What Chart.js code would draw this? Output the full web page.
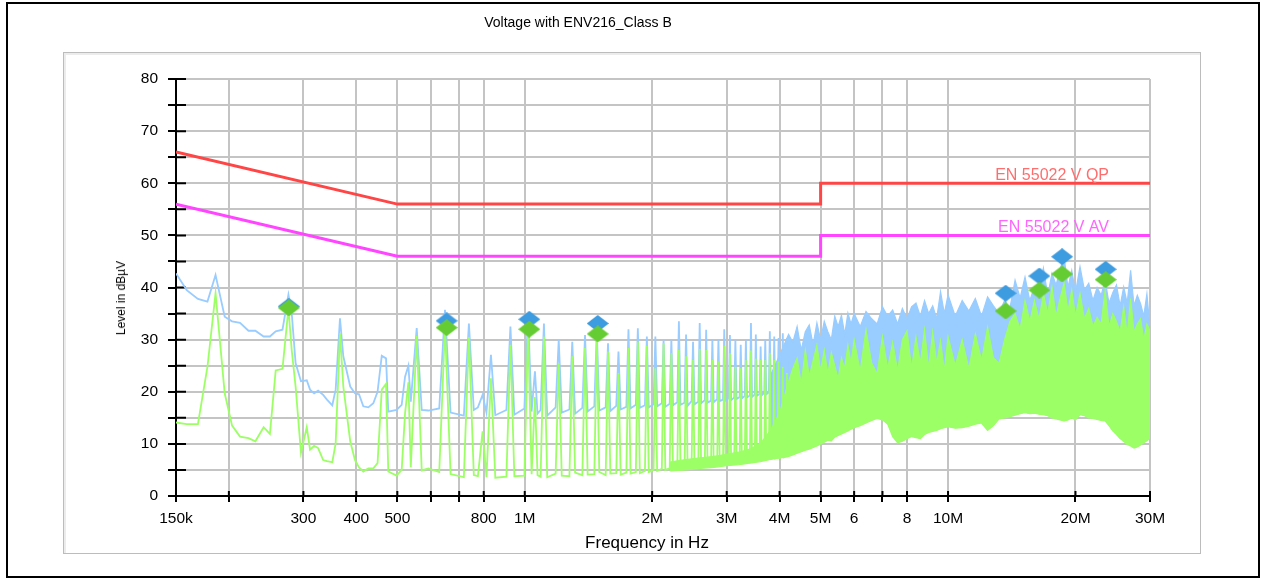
<!DOCTYPE html>
<html>
<head>
<meta charset="utf-8">
<script src="https://cdn.jsdelivr.net/npm/chart.js@4.4.0/dist/chart.umd.min.js"></script>
<style>
  html, body { margin: 0; padding: 0; background: #fff; }
  body { width: 1263px; height: 579px; position: relative; overflow: hidden; font-family: "Liberation Sans", Arial, sans-serif; }
  #frame { position: absolute; left: 6px; top: 2px; width: 1254px; height: 576px; box-sizing: border-box; border: 2px solid #000; }
  #panel { position: absolute; left: 63px; top: 52px; width: 1138px; height: 502px; box-sizing: border-box; border: 1px solid #bcbcbc; box-shadow: inset 2px 2px 0 #ececec; }
  #chart { position: absolute; left: 0; top: 0; }
  .txt { position: absolute; color: #000; white-space: nowrap; }
  #title { left: 578px; top: 14px; font-size: 14px; transform: translateX(-50%); }
  #xtitle { left: 647px; top: 533px; font-size: 17px; transform: translateX(-50%); }
  #ytitle { left: 121px; top: 298px; font-size: 12px; transform: translate(-50%, -50%) rotate(-90deg); }
</style>
</head>
<body>
<div id="frame"></div>
<div id="panel"></div>
<canvas id="chart" width="1263" height="579"></canvas>
<div class="txt" id="title">Voltage with ENV216_Class B</div>
<div class="txt" id="xtitle">Frequency in Hz</div>
<div class="txt" id="ytitle">Level in dBµV</div>
<script>
// axis ticks
const xTickValues = [150e3, 200e3, 300e3, 400e3, 500e3, 600e3, 700e3, 800e3, 1e6,
                     2e6, 3e6, 4e6, 5e6, 6e6, 7e6, 8e6, 10e6, 20e6, 30e6];
const xTickLabels = ['150k', '', '300', '400', '500', '', '', '800', '1M',
                     '2M', '3M', '4M', '5M', '6', '', '8', '10M', '20M', '30M'];

// limit lines (MHz, dBuV)
const limitNames = ['EN 55022 V QP', 'EN 55022 V AV'];
const limitFreqM = [0.15, 0.5, 5, 5, 30];
const qpLimit = [66, 56, 56, 60, 60];
const avLimit = [56, 46, 46, 50, 50];

// final measurement markers
const markerFreqM = [0.277, 0.654, 1.025, 1.487, 13.68, 16.43, 18.6, 23.57];
const markerPeak = [36.4, 33.6, 33.9, 33.1, 38.9, 42.2, 45.9, 43.5];
const markerAvg = [36.1, 32.3, 32.0, 31.1, 35.5, 39.5, 42.6, 41.5];

// preview scan, low part (kHz)
const traceFreqK = [
  150, 159, 169, 178, 186, 195.5, 203.5, 212.5, 222.5, 231, 241.6, 250,
  258, 267.7, 276.5, 281.5, 287.5, 296, 305.5, 311, 318, 325, 334, 341,
  351, 357.5, 366, 372.7, 387, 397, 406, 415.5, 427, 438.8, 449, 459.4,
  470.2, 476, 498, 512, 521.5, 531, 538, 555.6, 571, 592,
  628, 648, 668, 718, 738, 758, 775, 795, 812, 832, 852,
  905, 925, 945, 998, 1018, 1038, 1057, 1072, 1090, 1110, 1130,
  1183, 1203, 1223, 1275, 1295, 1315, 1368, 1388, 1408, 1460, 1480, 1500,
  1553, 1573, 1593, 1645, 1665, 1685, 1738, 1758, 1778, 1830, 1850, 1870,
  1923, 1943, 1963, 2015, 2035, 2055, 2108, 2128, 2148, 2200, 2220, 2240,
  2293, 2313, 2333, 2385, 2405, 2425, 2478, 2498, 2518, 2570, 2590, 2610,
  2663, 2683, 2703, 2755, 2775, 2795, 2848, 2868, 2888, 2940, 2960, 2980,
  3033, 3053, 3073, 3125, 3145, 3165, 3218, 3238, 3258, 3310, 3330, 3350,
  3403, 3423, 3443, 3495, 3515, 3535, 3588, 3608, 3628, 3680, 3700, 3720,
  3773, 3793, 3813, 3865, 3885, 3905, 3958, 3978, 3998, 4050, 4070, 4090,
  4143, 4163, 4183
];
const tracePeak = [
  42.7, 39.5, 37.8, 37.3, 42.4, 34.4, 33.5, 33.2, 31.7, 31.7, 30.6, 30.6,
  31.6, 31.9, 38.6, 35.1, 25.5, 22.0, 22.2, 20.4, 19.7, 20.2, 19.4, 18.5,
  17.4, 20.4, 34.1, 26.8, 21.0, 19.7, 19.5, 17.2, 17.0, 17.8, 20.0, 26.9,
  26.4, 16.2, 16.5, 17.5, 22.9, 25.0, 18.1, 32.2, 16.5, 16.4,
  16.8, 35.7, 16.0, 15.4, 33.1, 16.5, 17.0, 19.4, 16.0, 27.1, 15.5,
  16.5, 32.5, 15.6, 16.8, 34.7, 16.2, 23.9, 15.8, 16.5, 33.1, 15.4,
  17.0, 29.9, 16.0, 16.6, 29.6, 15.8, 16.9, 30.9, 16.2, 17.2, 31.6, 16.4,
  17.0, 29.3, 16.3, 17.3, 27.7, 16.6, 17.1, 32.0, 16.8, 17.5, 32.2, 16.9,
  17.4, 30.6, 17.0, 17.6, 30.6, 17.2, 17.8, 29.9, 17.1, 17.7, 30.0, 17.4,
  18.0, 33.5, 17.5, 17.9, 31.0, 17.3, 18.2, 29.6, 17.6, 18.1, 33.2, 17.8,
  18.4, 31.9, 17.9, 18.3, 30.0, 18.0, 18.6, 30.0, 18.2, 18.5, 32.0, 18.3,
  18.8, 30.9, 18.4, 18.9, 30.0, 18.6, 19.0, 29.0, 18.7, 19.2, 30.0, 18.9,
  19.3, 33.2, 19.0, 19.5, 31.0, 19.2, 19.6, 28.7, 19.3, 19.8, 30.0, 19.5,
  19.9, 31.6, 19.6, 20.0, 30.6, 19.7, 20.2, 30.3, 19.9, 20.3, 31.2, 20.0,
  20.4, 30.3, 20.1
];
const traceAvg = [
  14.1, 13.8, 13.8, 24.8, 38.9, 19.7, 13.5, 11.4, 11.1, 10.5, 13.2, 11.9,
  24.1, 24.4, 36.0, 28.0, 21.0, 8.3, 13.2, 8.9, 9.6, 9.2, 6.9, 6.7,
  6.5, 10.1, 31.2, 21.0, 10.5, 6.9, 5.5, 4.7, 5.3, 5.3, 6.3, 20.4,
  21.5, 4.7, 3.9, 5.0, 15.9, 21.8, 5.5, 30.7, 4.9, 5.3,
  4.6, 32.5, 4.2, 3.6, 30.5, 4.0, 3.8, 12.4, 3.6, 22.6, 3.5,
  3.7, 29.0, 3.8, 3.9, 32.2, 4.2, 19.0, 4.0, 3.7, 30.6, 3.6,
  4.3, 25.5, 3.9, 3.8, 26.8, 4.5, 4.0, 28.4, 4.1, 4.2, 30.0, 4.6,
  4.0, 27.7, 4.3, 4.4, 23.6, 4.1, 4.5, 28.4, 4.3, 4.6, 29.6, 4.4,
  4.8, 28.8, 4.6, 5.0, 24.5, 4.8, 5.2, 29.3, 5.0, 5.3, 27.4, 5.1,
  5.5, 28.0, 5.3, 5.4, 26.8, 5.6, 5.7, 26.1, 5.5, 5.8, 28.2, 5.9,
  6.0, 28.0, 5.8, 6.1, 26.1, 6.0, 6.2, 25.8, 6.1, 6.3, 28.8, 6.2,
  6.4, 27.4, 6.3, 6.5, 24.8, 6.4, 6.6, 24.5, 6.5, 6.7, 26.1, 6.6,
  6.8, 27.9, 6.7, 6.9, 26.4, 6.8, 7.0, 26.1, 6.9, 7.1, 26.1, 7.0,
  7.2, 27.4, 7.1, 7.3, 26.1, 7.2, 7.4, 25.8, 7.3, 7.5, 24.8, 7.4,
  7.6, 23.6, 7.5
];

// preview scan, dense part (MHz): top edges and lower edge of the band
const bandFreqM = [
  2.2, 2.4, 2.6, 2.8, 3.0, 3.2, 3.4, 3.6, 3.8, 4.0,
  4.2, 4.3, 4.4, 4.5, 4.6, 4.7, 4.8, 4.9, 5.0, 5.1, 5.2, 5.3, 5.4, 5.5, 5.6, 5.7, 5.8, 5.9, 6.0,
  6.2, 6.4, 6.6, 6.8, 7.0, 7.2, 7.4, 7.6, 7.8, 8.0, 8.2, 8.4, 8.6, 8.8, 9.0, 9.2, 9.4, 9.6, 9.8, 10.0,
  10.4, 10.8, 11.2, 11.6, 12.0, 12.4, 12.8, 13.2, 13.6, 14.0, 14.4, 14.8, 15.2, 15.6, 16.0,
  16.4, 16.8, 17.2, 17.6, 18.0, 18.4, 18.8, 19.2, 19.6, 20.0,
  20.5, 21.0, 21.5, 22.0, 22.5, 23.0, 23.5, 24.0, 24.5, 25.0, 25.5, 26.0, 26.5, 27.0, 27.5,
  28.0, 28.5, 29.0, 29.5, 30.0
];
const bandPeakTop = [
  null, null, null, null, null, null, null, null, 23.0, 27.0,
  31.0, 29.5, 32.5, 28.0, 31.5, 32.8, 29.0, 33.2, 30.0, 33.5, 31.5, 30.0, 34.5, 32.5, 34.7, 31.0, 35.1, 33.0, 35.0,
  32.5, 35.4, 34.0, 33.0, 36.3, 34.5, 35.7, 33.0, 36.0, 34.0, 36.3, 37.0, 34.5, 37.5, 35.0, 36.5, 34.0, 39.2, 35.0, 38.6,
  34.5, 37.5, 35.5, 37.9, 34.5, 38.2, 36.5, 35.0, 37.5, 36.0, 41.4, 38.0, 42.0, 37.5, 40.1,
  39.5, 43.7, 38.5, 42.7, 40.5, 43.5, 45.9, 40.0, 43.3, 39.0,
  44.0, 39.5, 40.8, 37.5, 40.0, 38.5, 41.4, 37.0, 39.0, 40.5, 36.5, 40.1, 37.0, 43.3, 36.5,
  38.5, 36.9, 34.5, 38.8, 32.0
];
const bandAvgTop = [
  6.5, 7.0, 7.3, 7.6, 8.0, 8.4, 9.0, 10.0, 12.5, 16.0,
  22.0, 24.5, 26.5, 21.5, 28.0, 23.0, 26.0, 29.0, 24.0, 28.0, 23.5, 27.5, 25.0, 22.5, 26.5, 24.5, 29.0, 25.5, 30.0,
  24.0, 31.9, 25.5, 23.5, 30.6, 24.5, 29.5, 24.0, 30.0, 31.7, 24.5, 30.5, 25.5, 31.9, 24.5, 31.5, 25.5, 29.8, 24.0, 30.6,
  25.0, 30.0, 24.5, 31.1, 26.0, 32.4, 26.5, 25.5, 30.0, 33.5, 35.0, 32.0, 37.5, 33.5, 37.5,
  34.0, 38.8, 35.0, 40.1, 34.5, 38.0, 40.8, 35.5, 39.5, 34.5,
  38.8, 34.0, 36.0, 32.5, 34.3, 33.0, 39.5, 32.5, 35.0, 33.5, 31.5, 36.3, 31.0, 37.9, 31.5,
  33.0, 34.0, 30.0, 33.0, 31.7
];
const bandAvgBottom = [
  4.8, 5.0, 5.3, 5.5, 5.8, 6.0, 6.3, 6.6, 7.0, 7.3,
  7.6, 7.9, 8.2, 8.5, 8.8, 9.0, 9.3, 9.6, 10.0, 10.3, 10.7, 10.6, 11.3, 11.6, 11.9, 12.2, 12.5, 12.8, 13.1,
  13.5, 14.0, 14.5, 14.9, 14.6, 13.8, 11.4, 10.2, 10.5, 11.0, 11.4, 11.2, 11.0, 11.8, 12.2, 12.4, 12.6, 12.9, 13.1, 13.3,
  13.0, 13.1, 13.4, 13.8, 14.0, 12.6, 13.5, 14.8, 15.0, 15.2, 15.5, 15.8, 16.0, 15.8, 15.9,
  15.7, 15.6, 15.4, 15.0, 14.8, 14.6, 14.4, 14.6, 15.0, 14.6,
  15.6, 15.4, 15.0, 14.9, 14.7, 14.5, 14.4, 13.5, 12.5, 11.8, 11.0, 10.5, 9.9, 9.6, 9.2,
  9.4, 9.8, 10.2, 10.6, 11.1
];

const blue = '#99ccff';
const green = '#9cff66';
const font = { family: '"Liberation Sans", Arial, sans-serif', size: 15.5 };

function pts(freqs, unit, vals) {
  return freqs.map((f, i) => ({ x: f * unit, y: vals[i] }));
}

function diamond(color) {
  const c = document.createElement('canvas');
  c.width = 22; c.height = 17;
  const g = c.getContext('2d');
  g.fillStyle = color;
  g.beginPath();
  g.moveTo(11, 0); g.lineTo(22, 8.5); g.lineTo(11, 17); g.lineTo(0, 8.5);
  g.closePath();
  g.fill();
  return c;
}

// short black ticks on the inner side of the axes + limit line names
const axisExtras = {
  id: 'axisExtras',
  beforeDatasetsDraw(chart) {
    const { ctx, chartArea: a, scales: { x, y } } = chart;
    ctx.save();
    ctx.strokeStyle = '#000';
    ctx.lineWidth = 2;
    ctx.beginPath();
    y.ticks.forEach(t => {
      const p = y.getPixelForValue(t.value);
      ctx.moveTo(a.left, p); ctx.lineTo(a.left + 10, p);
    });
    x.ticks.forEach(t => {
      const p = x.getPixelForValue(t.value);
      ctx.moveTo(p, a.bottom); ctx.lineTo(p, a.bottom - 5);
    });
    ctx.stroke();
    ctx.restore();
  },
  afterDatasetsDraw(chart) {
    const { ctx, chartArea: a, scales: { y } } = chart;
    ctx.save();
    ctx.font = '16px "Liberation Sans", Arial, sans-serif';
    ctx.textAlign = 'right';
    ctx.textBaseline = 'alphabetic';
    ctx.fillStyle = '#ff6e6e';
    ctx.fillText(limitNames[0], a.right - 41, y.getPixelForValue(qpLimit[4]) - 3);
    ctx.fillStyle = '#ff66ff';
    ctx.fillText(limitNames[1], a.right - 41, y.getPixelForValue(avLimit[4]) - 3);
    ctx.restore();
  }
};

new Chart(document.getElementById('chart'), {
  type: 'line',
  data: {
    datasets: [
      { label: 'AV final', data: pts(markerFreqM, 1e6, markerAvg), showLine: false,
        pointStyle: diamond('#66cc33'), pointRadius: 10, pointHoverRadius: 10 },
      { label: 'QP final', data: pts(markerFreqM, 1e6, markerPeak), showLine: false,
        pointStyle: diamond('#3d9be0'), pointRadius: 10, pointHoverRadius: 10 },
      { label: limitNames[0], data: pts(limitFreqM, 1e6, qpLimit),
        borderColor: '#ff4545', borderWidth: 3, pointRadius: 0 },
      { label: limitNames[1], data: pts(limitFreqM, 1e6, avLimit),
        borderColor: '#ff45ff', borderWidth: 3, pointRadius: 0 },
      { label: 'Average', data: pts(traceFreqK, 1e3, traceAvg),
        borderColor: green, borderWidth: 1.8, pointRadius: 0 },
      { label: 'Average band', data: pts(bandFreqM, 1e6, bandAvgTop),
        borderColor: green, backgroundColor: green, borderWidth: 1.2, pointRadius: 0, fill: 6 },
      { label: 'Average floor', data: pts(bandFreqM, 1e6, bandAvgBottom),
        borderColor: green, borderWidth: 1.2, pointRadius: 0 },
      { label: 'Peak', data: pts(traceFreqK, 1e3, tracePeak),
        borderColor: blue, borderWidth: 1.8, pointRadius: 0 },
      { label: 'Peak band', data: pts(bandFreqM, 1e6, bandPeakTop),
        borderColor: blue, backgroundColor: blue, borderWidth: 1.2, pointRadius: 0, fill: 6 }
    ]
  },
  options: {
    responsive: false,
    animation: false,
    devicePixelRatio: 1,
    events: [],
    layout: { padding: { left: 0, right: 113, top: 79, bottom: 43 } },
    elements: { line: { tension: 0 } },
    plugins: {
      legend: { display: false },
      tooltip: { enabled: false },
      title: { display: false }
    },
    scales: {
      x: {
        type: 'logarithmic',
        bounds: 'data',
        min: 150000,
        max: 30000000,
        afterBuildTicks: s => { s.ticks = xTickValues.map(v => ({ value: v })); },
        afterFit: s => { s.height = 40; },
        ticks: {
          autoSkip: false, maxRotation: 0, minRotation: 0, padding: 7,
          color: '#000', font: font,
          callback: (v, i) => xTickLabels[i]
        },
        grid: { color: '#c4c4c4', lineWidth: 2, tickColor: '#000', tickLength: 6, tickWidth: 2 },
        border: { display: true, color: '#000', width: 2 }
      },
      y: {
        min: 0,
        max: 80,
        afterFit: s => { s.width = 176; },
        ticks: {
          stepSize: 5, padding: 10, color: '#000', font: font,
          callback: v => (v % 10 === 0 ? String(v) : '')
        },
        grid: { color: '#c4c4c4', lineWidth: 2, tickColor: '#000', tickLength: 8, tickWidth: 2 },
        border: { display: true, color: '#000', width: 2 }
      }
    }
  },
  plugins: [axisExtras]
});
</script>
</body>
</html>
